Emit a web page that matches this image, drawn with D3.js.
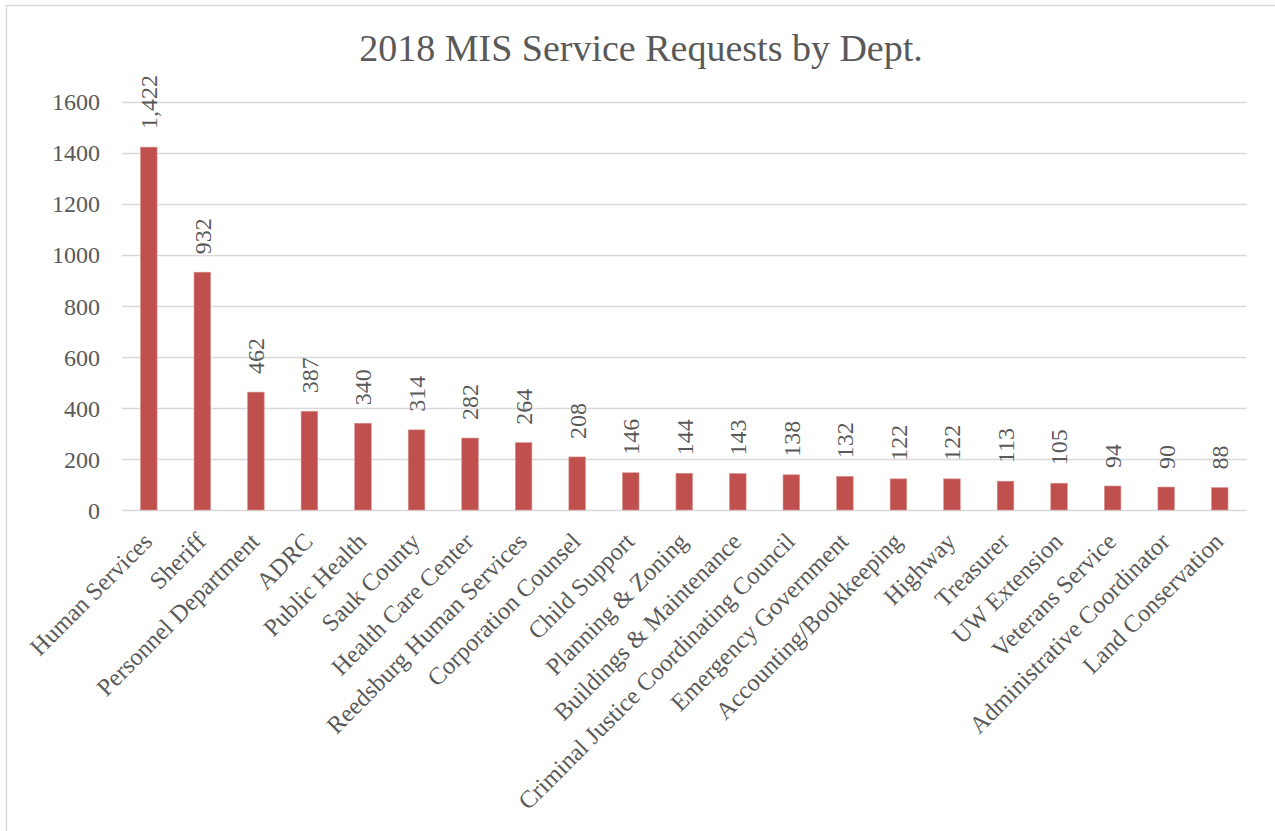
<!DOCTYPE html>
<html>
<head>
<meta charset="utf-8">
<script src="https://cdn.jsdelivr.net/npm/d3@7"></script>
<style>
  html, body { margin: 0; padding: 0; background: #fff; }
  svg { display: block; }
</style>
</head>
<body>
<svg id="chart" width="1275" height="831"></svg>
<script>
const categories = ["Human Services","Sheriff","Personnel Department","ADRC","Public Health","Sauk County","Health Care Center","Reedsburg Human Services","Corporation Counsel","Child Support","Planning & Zoning","Buildings & Maintenance","Criminal Justice Coordinating Council","Emergency Government","Accounting/Bookkeeping","Highway","Treasurer","UW Extension","Veterans Service","Administrative Coordinator","Land Conservation"];
const values = [1422,932,462,387,340,314,282,264,208,146,144,143,138,132,122,122,113,105,94,90,88];
const yTicks = [0,200,400,600,800,1000,1200,1400,1600];
const title = "2018 MIS Service Requests by Dept.";

(function () {
const svg = d3.select("#chart");
const font = "'Liberation Serif', 'Times New Roman', serif";
const textColor = "#595959";

// outer chart border
svg.append("rect").attr("x", 6.5).attr("y", 5.5).attr("width", 1300).attr("height", 900)
  .attr("fill", "#fff").attr("stroke", "#D9D9D9").attr("stroke-width", 1.5);

const pLeft = 122, pRight = 1246.5, pTop = 101.7, pBottom = 510;
const x = d3.scaleBand().domain(categories).range([pLeft, pRight]).paddingInner(0.69).paddingOuter(0.345);
const y = d3.scaleLinear().domain([0, 1600]).range([pBottom, pTop]);

// gridlines
svg.append("g").selectAll("line").data(yTicks).join("line")
  .attr("x1", pLeft).attr("x2", pRight)
  .attr("y1", d => Math.round(y(d)) + 0.5).attr("y2", d => Math.round(y(d)) + 0.5)
  .attr("stroke", "#D9D9D9").attr("stroke-width", 1.5);

// y axis labels
const yAxis = d3.axisLeft(y).tickValues(yTicks).tickSize(0).tickPadding(0).tickFormat(d3.format("d"));
const gy = svg.append("g").attr("transform", `translate(100,0)`).call(yAxis);
gy.select(".domain").remove();
gy.selectAll("text").attr("font-family", font).attr("font-size", 24).attr("fill", textColor).attr("dy", "0.34em");

// bars
svg.append("g").selectAll("rect").data(values).join("rect")
  .attr("x", (d, i) => x(categories[i]))
  .attr("width", x.bandwidth())
  .attr("y", d => y(d))
  .attr("height", d => pBottom - y(d))
  .attr("fill", "#C0504D")
  .attr("stroke", "#D99694").attr("stroke-width", 0.6);

// data labels
const fmt = d3.format(",");
svg.append("g").selectAll("text").data(values).join("text")
  .attr("transform", (d, i) => `translate(${x(categories[i]) + x.bandwidth() / 2},${y(d) - 18}) rotate(-90)`)
  .attr("dy", "0.35em")
  .attr("text-anchor", "start")
  .attr("font-family", font).attr("font-size", 24).attr("fill", textColor)
  .text(d => fmt(d));

// category labels
const xAxis = d3.axisBottom(x).tickSize(0).tickPadding(0);
const gx = svg.append("g").attr("transform", `translate(0,${pBottom})`).call(xAxis);
gx.select(".domain").remove();
gx.selectAll("text")
  .attr("font-family", font).attr("font-size", 24.5).attr("fill", textColor)
  .attr("text-anchor", "end")
  .attr("y", 0).attr("dy", 0)
  .attr("transform", "translate(5,33) rotate(-45)");

// title
svg.append("text").attr("x", 641).attr("y", 61).attr("text-anchor", "middle")
  .attr("font-family", font).attr("font-size", 38).attr("fill", textColor)
  .text(title);
})();
</script>
</body>
</html>
